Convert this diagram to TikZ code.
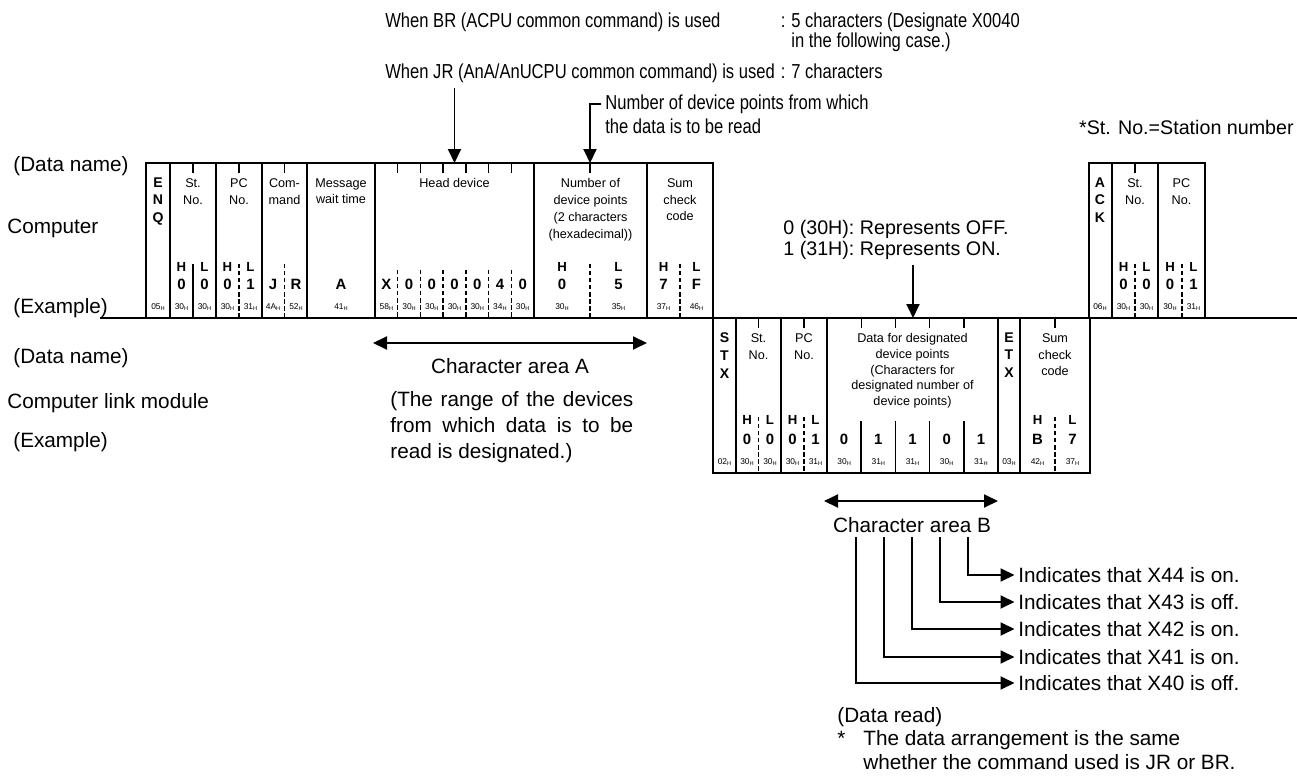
\documentclass[tikz,border=0pt]{standalone}
\usepackage{fontspec}
\setmainfont{Liberation Sans}
\newfontfamily\condf[FakeStretch=0.82]{Liberation Sans}
\usetikzlibrary{arrows.meta,positioning}

\newcommand{\hexc}[1]{#1\raisebox{-.3ex}{\fontsize{3.2}{3.2}\selectfont H}}

\tikzset{
  lbl/.style={anchor=west,inner sep=0pt,font=\fontsize{11.8}{14}\selectfont},
  toptxt/.style={anchor=west,inner sep=0pt,font=\condf\fontsize{11.5}{13}\selectfont},
  fname/.style={anchor=north,inner sep=0pt,align=center,font=\fontsize{7.2}{9.6}\selectfont},
  ltrs/.style={anchor=north,inner sep=0pt,align=center,font=\bfseries\fontsize{8}{10.2}\selectfont},
  hl/.style={inner sep=0pt,font=\bfseries\fontsize{7.5}{9}\selectfont},
  val/.style={inner sep=0pt,font=\bfseries\fontsize{8.5}{10}\selectfont},
  hexs/.style={inner sep=0pt,font=\fontsize{4.8}{5}\selectfont},
  frm/.style={line width=1.2pt},
  tck/.style={line width=0.8pt},
  sub/.style={line width=0.8pt,dash pattern=on 2.5pt off 1.5pt},
  arr/.style={line width=1.1pt,-{Triangle[length=0.28cm,width=0.26cm]}},
  arrs/.style={line width=1.1pt,{Triangle[length=0.28cm,width=0.26cm]}-{Triangle[length=0.28cm,width=0.26cm]}},
}

\begin{document}
\begin{tikzpicture}[x=0.02cm,y=-0.02cm]
\useasboundingbox (0,0) rectangle (1297,780);

% notes on top
\node[toptxt] (brl) at (385,22) {When BR (ACPU common command) is used};
\node[toptxt] (jrl) at (385,73) {When JR (AnA/AnUCPU common command) is used};
\node[toptxt,anchor=base west] (jrc) at ([xshift=3pt]jrl.base east) {:};
\node[toptxt,anchor=base west] (jrt) at ([xshift=3pt]jrc.base east) {7 characters};
\node[toptxt,anchor=base west] (brc) at (jrc.base west |- brl.base) {:};
\node[toptxt,anchor=base west] (brt) at (jrt.base west |- brl.base) {5 characters (Designate X0040};
\node[toptxt,anchor=base west] (brt2) at ([yshift=-0.4cm]brt.base west) {in the following case.)};
\node[toptxt] (npt) at (605,104) {Number of device points from which};
\node[toptxt] (npt2) at (605,126) {the data is to be read};
\node[toptxt,anchor=east,font=\fontsize{11.2}{13}\selectfont] (stn) at (1294,127) {*St. No.=Station number};

% row labels
\node[lbl] (dn1) at (13,166) {(Data name)};
\node[lbl] (comp) at (7,228) {Computer};
\node[lbl] (ex1) at (13,308) {(Example)};
\node[lbl] (dn2) at (13,358) {(Data name)};
\node[lbl] (clm) at (7,403) {Computer link module};
\node[lbl] (ex2) at (13,442) {(Example)};

% computer frame
\draw[frm] (100,318) -- (1297,318);
\draw[frm] (146,318) |- (713,163) -- (713,318);
\foreach \x in {170,216,262,307,375,534,647}
  \draw[frm] (\x,163) -- (\x,318);
\foreach \x in {193,239,284.5,590}
  \draw[tck] (\x,163) -- +(0,10);
\foreach \k in {1,...,6}
  \draw[tck] (375+\k*22.714,163) -- +(0,10);
\draw[tck] (193,264) -- (193,318);
\foreach \x in {239,284.5,590,680}
  \draw[sub] (\x,264) -- (\x,318);
\foreach \k in {1,...,6}
  \draw[sub] (375+\k*22.714,270) -- (375+\k*22.714,318);

\node[ltrs] (enq) at (158,177) {E\\N\\Q};
\node[fname] (stno) at (193,178) {St.\\No.};
\node[fname] (pcno) at (239,178) {PC\\No.};
\node[fname] (cmd) at (284.5,178) {Com-\\mand};
\node[fname] (mwt) at (341,178) {Message\\wait time};
\node[fname] (hdev) at (454.5,178) {Head device};
\node[fname] (npts) at (590.5,178) {Number of\\device points\\(2 characters\\(hexadecimal))};
\node[fname] (sum) at (680,178) {Sum\\check\\code};

\foreach \x/\h/\v/\c [count=\i] in {158/{}/{}/05,181.5/H/0/30,204.5/L/0/30,227.5/H/0/30,250.5/L/1/31,273/{}/J/4A,296/{}/R/52,341/{}/A/41,562/H/0/30,618.5/L/5/35,663.5/H/7/37,696.5/L/F/46}
{
  \node[hl] (ah\i) at (\x,267) {\h};
  \node[val] (av\i) at (\x,284) {\v};
  \node[hexs] (ac\i) at (\x,307) {\hexc{\c}};
}
\foreach \v/\c [count=\k from 0] in {X/58,0/30,0/30,0/30,0/30,4/34,0/30}
{
  \node[val] (dv\k) at (386.36+\k*22.714,284) {\v};
  \node[hexs] (dc\k) at (386.36+\k*22.714,307) {\hexc{\c}};
}

% ACK frame
\draw[frm] (1089,318) |- (1205,163) -- (1205,318);
\foreach \x in {1112,1158}
  \draw[frm] (\x,163) -- (\x,318);
\draw[tck] (1135,163) -- +(0,10);
\foreach \x in {1135,1182}
  \draw[sub] (\x,264) -- (\x,318);
\node[ltrs] (ack) at (1100,177) {A\\C\\K};
\node[fname] (stno3) at (1135,178) {St.\\No.};
\node[fname] (pcno3) at (1181.5,178) {PC\\No.};
\foreach \x/\h/\v/\c [count=\i] in {1100/{}/{}/06,1123.5/H/0/30,1146.5/L/0/30,1170/H/0/30,1193.5/L/1/31}
{
  \node[hl] (kh\i) at (\x,267) {\h};
  \node[val] (kv\i) at (\x,284) {\v};
  \node[hexs] (kc\i) at (\x,307) {\hexc{\c}};
}

% computer link module frame
\draw[frm] (713,318) -- (713,473) -- (1090,473) -- (1090,318);
\foreach \x in {736,781,827,998,1020}
  \draw[frm] (\x,318) -- (\x,473);
\foreach \k in {1,...,4}
{
  \draw[tck] (827+\k*34.2,318) -- +(0,10);
  \draw[line width=1pt] (827+\k*34.2,421) -- (827+\k*34.2,473);
}
\foreach \x in {758.5,804,1055}
{
  \draw[tck] (\x,318) -- +(0,10);
  \draw[sub] (\x,417) -- (\x,473);
}
\node[ltrs] (stx) at (724.5,332) {S\\T\\X};
\node[fname] (stno2) at (758.5,333) {St.\\No.};
\node[fname] (pcno2) at (804,333) {PC\\No.};
\node[fname,font=\fontsize{7.2}{9}\selectfont] (dfd) at (912.5,333) {Data for designated\\device points\\(Characters for\\designated number of\\device points)};
\node[ltrs] (etx) at (1009,332) {E\\T\\X};
\node[fname] (sum2) at (1055,333) {Sum\\check\\code};
\foreach \x/\h/\v/\c [count=\i] in {724.5/{}/{}/02,747/H/0/30,770/L/0/30,792.5/H/0/30,815.5/L/1/31,844.1/{}/0/30,878.3/{}/1/31,912.5/{}/1/31,946.7/{}/0/30,980.9/{}/1/31,1009/{}/{}/03,1037.5/H/B/42,1072.5/L/7/37}
{
  \node[hl] (bh\i) at (\x,420) {\h};
  \node[val] (bv\i) at (\x,439) {\v};
  \node[hexs] (bc\i) at (\x,462) {\hexc{\c}};
}

% callout arrows
\coordinate (hdtop) at (454.5,88);
\coordinate (hdin) at (454.5,163);
\draw[arr] (hdtop) -- (hdin);
\coordinate (npin) at (590,163);
\draw[arr] ([xshift=-2pt]npt.west) -| (npin);

\node[lbl,font=\fontsize{11.2}{13}\selectfont] (off) at (783,229) {0 (30H): Represents OFF.};
\node[lbl,font=\fontsize{11.2}{13}\selectfont] (on) at (783,250) {1 (31H): Represents ON.};
\coordinate (repst) at (913,265);
\coordinate (repin) at (913,318);
\draw[arr] (repst) -- (repin);

% character area A
\coordinate (aal) at (373,343);
\coordinate (aar) at (647,343);
\draw[arrs] (aal) -- (aar);
\node[lbl,anchor=center] (areaA) at (510,366) {Character area A};
\node[lbl,anchor=north west,text width=4.86cm,align=justify,font=\fontsize{11.8}{14.7}\selectfont] (rng) at (390,391)
  {(The range of the devices\linebreak from which data is to be\linebreak read is designated.)};

% character area B
\coordinate (abl) at (824,501);
\coordinate (abr) at (998,501);
\draw[arrs] (abl) -- (abr);
\node[lbl,anchor=center] (areaB) at (912,525) {Character area B};

\node[lbl] (x44) at (1018,575) {Indicates that X44 is on.};
\node[lbl] (x43) at (1018,602) {Indicates that X43 is off.};
\node[lbl] (x42) at (1018,629) {Indicates that X42 is on.};
\node[lbl] (x41) at (1018,657) {Indicates that X41 is on.};
\node[lbl] (x40) at (1018,683) {Indicates that X40 is off.};
\foreach \x/\t in {856/x40,884/x41,912/x42,940/x43,968/x44}
{
  \coordinate (b\t) at (\x,537);
  \draw[arr,shorten >=2pt] (b\t) |- (\t.west);
}

% note
\node[lbl] (dread) at (837,717) {(Data read)};
\node[lbl] (note1) at (863,740) {The data arrangement is the same};
\node[lbl] (note2) at (863,762) {whether the command used is JR or BR.};
\coordinate (sx) at (837,740);
\node[lbl,anchor=base west] (star) at (note1.base -| sx) {*};
\end{tikzpicture}
\end{document}
